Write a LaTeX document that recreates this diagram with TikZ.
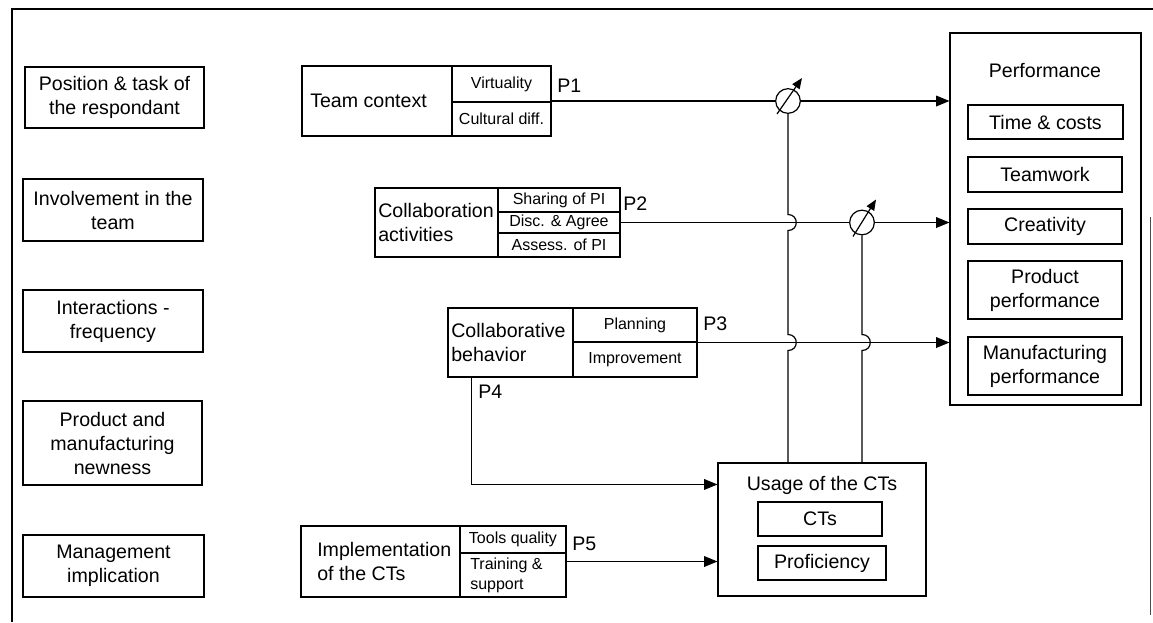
\documentclass[tikz,border=0pt]{standalone}
\usepackage{fontspec}
\setmainfont{Liberation Sans}
\usetikzlibrary{arrows.meta,fit,calc}

\begin{document}
\begin{tikzpicture}[x=0.75pt,y=-0.75pt,
  frame/.style={draw, line width=0.8pt, inner sep=0pt},
  big/.style={font=\fontsize{14.7}{18}\selectfont, align=center, inner sep=0pt},
  small/.style={font=\fontsize{12}{14}\selectfont, align=center, inner sep=0pt},
  lbl/.style={big, anchor=west},
  conn/.style={line width=0.9pt},
  arr/.style={conn, -{Triangle[length=10pt,width=8pt]}},
  modarr/.style={line width=0.9pt, -{Triangle[length=8pt,width=6.5pt]}},
  moder/.style={draw, circle, line width=0.9pt, minimum size=18.5pt, inner sep=0pt}]

\useasboundingbox (0,0) rectangle (1153,622);

% page frame
\draw[line width=1.5pt] (11,9) -- (1153,9);
\draw[line width=2.2pt] (12,9) -- (12,622);
\draw[line width=0.6pt, black!70] (1150,217) -- (1150,615);

% control variables
\node[frame, fit={(25,67) (204,128)}] (ctrlA) {};
\node[big] (ctrlAt) at (ctrlA) {Position \& task of\\the respondant};
\node[frame, fit={(23,179) (203,241)}] (ctrlB) {};
\node[big] (ctrlBt) at (ctrlB) {Involvement in the\\team};
\node[frame, fit={(23,290) (203,352)}] (ctrlC) {};
\node[big] (ctrlCt) at (ctrlC) {Interactions -\\frequency};
\node[frame, fit={(23,401) (202,485)}] (ctrlD) {};
\node[big] (ctrlDt) at (ctrlD) {Product and\\manufacturing\\newness};
\node[frame, fit={(23,535) (204,597)}] (ctrlE) {};
\node[big] (ctrlEt) at (ctrlE) {Management\\implication};

% team context
\node[frame, fit={(302,66) (551,136)}] (tc) {};
\node[lbl] (tctext) at (310,101) {Team context};
\node[frame, fit={(452,66) (551,102)}] (tcv) {};
\node[small] (tcvt) at (tcv) {Virtuality};
\node[frame, fit={(452,102) (551,136)}] (tcc) {};
\node[small] (tcct) at (tcc) {Cultural diff.};

% collaboration activities
\node[frame, fit={(375,188) (620,257)}] (ca) {};
\node[lbl, align=left] (catext) at (378,222) {Collaboration\\activities};
\node[frame, fit={(498,188) (620,212)}] (cas) {};
\node[small] (cast) at (cas) {Sharing of PI};
\node[frame, fit={(498,212) (620,233)}] (cad) {};
\node[small] (cadt) at (cad) {Disc. \& Agree};
\node[frame, fit={(498,233) (620,257)}] (caa) {};
\node[small] (caat) at (caa) {Assess. of PI};

% collaborative behavior
\node[frame, fit={(448,308) (697,377)}] (cb) {};
\node[lbl, align=left] (cbtext) at (451,342) {Collaborative\\behavior};
\node[frame, fit={(573,308) (697,342)}] (cbp) {};
\node[small] (cbpt) at (cbp) {Planning};
\node[frame, fit={(573,342) (697,377)}] (cbi) {};
\node[small] (cbit) at (cbi) {Improvement};

% implementation of the CTs
\node[frame, fit={(301,526) (566,597)}] (im) {};
\node[lbl, align=left] (imtext) at (317,561) {Implementation\\of the CTs};
\node[frame, fit={(460,526) (566,553)}] (imq) {};
\node[small] (imqt) at (imq) {Tools quality};
\node[frame, fit={(460,553) (566,597)}] (imt) {};
\node[font=\fontsize{12}{15}\selectfont, align=left, anchor=west, inner sep=0pt] (imttext) at (470,575) {Training \&\\support};

% usage of the CTs
\node[frame, fit={(718,463) (926,596)}] (us) {};
\node[big] (ustitle) at (822,485) {Usage of the CTs};
\node[frame, fit={(758,502) (882,536)}] (usc) {};
\node[big] (usct) at (usc) {CTs};
\node[frame, fit={(758,546) (886,580)}] (usp) {};
\node[big] (uspt) at (usp) {Proficiency};

% performance
\node[frame, fit={(950,33) (1141,405)}] (pf) {};
\node[big] (pftitle) at (1045,70) {Performance};
\node[frame, fit={(968,105) (1123,139)}] (pft) {};
\node[big] (pftt) at (pft) {Time \& costs};
\node[frame, fit={(968,157) (1122,192)}] (pfw) {};
\node[big] (pfwt) at (pfw) {Teamwork};
\node[frame, fit={(968,209) (1122,244)}] (pfc) {};
\node[big] (pfct) at (pfc) {Creativity};
\node[frame, fit={(968,261) (1122,319)}] (pfp) {};
\node[big] (pfpt) at (pfp) {Product\\performance};
\node[frame, fit={(968,337) (1122,395)}] (pfm) {};
\node[big] (pfmt) at (pfm) {Manufacturing\\performance};

% moderators
\node[moder] (m1) at (788,101) {};
\node[moder] (m2) at (862,222.5) {};
\draw[modarr] ($(m1)+(-11,13)$) -- ($(m1)+(14,-23)$);
\draw[modarr] ($(m2)+(-9,14)$) -- ($(m2)+(14,-23)$);

% proposition labels
\node[lbl] (p1) at (557,86) {P1};
\node[lbl] (p2) at (623,204) {P2};
\node[lbl] (p3) at (703,324) {P3};
\node[lbl] (p4) at (478,392) {P4};
\node[lbl] (p5) at (572,544) {P5};

% main paths
\draw[conn] (tc.east) -- (m1.west);
\draw[arr] (m1.east) -- (pf.west |- m1);
\draw[conn] (ca.east) -- (m2.west);
\draw[arr] (m2.east) -- (pf.west |- m2);
\draw[arr] (cb.east) -- (pf.west |- cb.east);

% P4 and P5 into usage
\coordinate (p4start) at ($(cb.south west)+(24,0)$);
\coordinate (p4in) at ($(us.north west)+(0,22)$);
\coordinate (p5in) at (us.west |- im.east);
\draw[arr] (p4start) |- (p4in);
\draw[arr] (im.east) -- (p5in);

% usage feeding the moderators, hopping over crossing lines
\draw[conn] (us.north -| m1) -- ($(m1 |- cb.east)+(0,8)$)
  .. controls +(11,0) and +(11,0) .. ($(m1 |- cb.east)+(0,-8)$)
  -- ($(m1 |- ca.east)+(0,8)$)
  .. controls +(11,0) and +(11,0) .. ($(m1 |- ca.east)+(0,-8)$)
  -- (m1.south);
\draw[conn] (us.north -| m2) -- ($(m2 |- cb.east)+(0,8)$)
  .. controls +(11,0) and +(11,0) .. ($(m2 |- cb.east)+(0,-8)$)
  -- (m2.south);

\end{tikzpicture}
\end{document}
